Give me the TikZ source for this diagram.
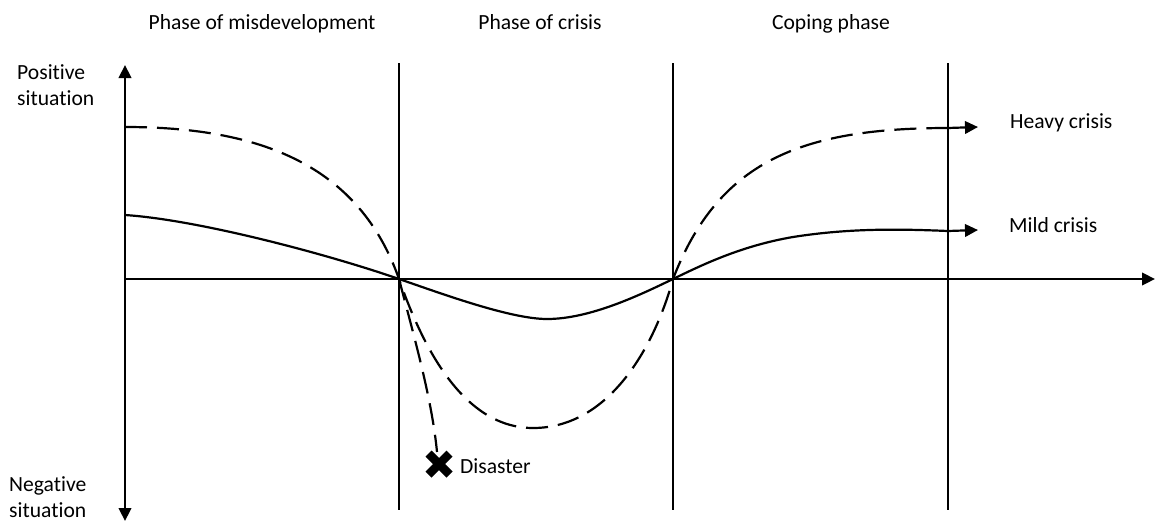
\documentclass[tikz,border=0pt]{standalone}
\usepackage{fontspec}
\setmainfont{Carlito}[Ligatures=NoCommon]
\usetikzlibrary{arrows.meta}

\def\axy{279}
\def\tipl{13pt}
\def\tipw{12.5pt}
\tikzset{
  tip/.tip={Triangle[length=\tipl,width=\tipw]},
  axis/.style={line width=2.2pt,-tip},
  border/.style={line width=2.2pt},
  mild/.style={line width=2.2pt},
  heavy/.style={line width=2.2pt,dash pattern=on 22pt off 10pt},
  lbl/.style={inner sep=0pt,font=\fontsize{21.6}{26}\selectfont},
  xmark/.style={line width=8.5pt},
}

\begin{document}
\begin{tikzpicture}[x=1pt,y=-1pt,line join=round]
  \useasboundingbox (0,0) rectangle (1156,523);
  % axes
  \coordinate (o) at (125,\axy);
  \coordinate (ytop) at (125,65);
  \coordinate (ybot) at (125,521);
  \coordinate (xend) at (1155,\axy);
  \draw[axis,tip-tip] (ybot) -- (ytop);
  \draw[axis] (o) -- (xend);
  \foreach \x [count=\n] in {399,673,948} {
    \coordinate (b\n) at (\x,\axy);
    \draw[border] (\x,63) -- (\x,510);
  }
  % phases
  \node[lbl,anchor=base] (ph1) at (262,29) {Phase of misdevelopment};
  \node[lbl,anchor=base] (ph2) at (540,29) {Phase of crisis};
  \node[lbl,anchor=base] (ph3) at (831,29) {Coping phase};
  \node[lbl,anchor=base west,align=left] (pos) at (17,105) {Positive\\situation};
  \node[lbl,anchor=base west,align=left] (neg) at (9,517) {Negative\\situation};
  % heavy crisis
  \coordinate (h0) at (125,127);
  \coordinate (hmin) at (533,428);
  \coordinate (h3) at (948,128);
  \coordinate (hend) at (978,127);
  \draw[heavy] (h0) .. controls (260,127) and (359,165) .. (b1)
    .. controls (420,339) and (460,428) .. (hmin)
    .. controls (610,428) and (655,345) .. (b2)
    .. controls (718,162) and (800,128) .. (h3);
  \draw[line width=2.2pt,-tip] (h3) -- (hend);
  \node[lbl,anchor=base west] (heavylbl) at (1010,128) {Heavy crisis};
  % mild crisis
  \coordinate (m0) at (125,215);
  \coordinate (mmin) at (547,319);
  \coordinate (m3) at (948,231);
  \coordinate (mend) at (978,230);
  \draw[mild] (m0) .. controls (200,220) and (330,255) .. (b1)
    .. controls (440,293) and (510,319) .. (mmin)
    .. controls (590,319) and (640,295) .. (b2)
    .. controls (700,266) and (740,246) .. (793,237)
    .. controls (850,228) and (900,229) .. (m3);
  \draw[line width=2.2pt,-tip] (m3) -- (mend);
  \node[lbl,anchor=base west] (mildlbl) at (1009,232) {Mild crisis};
  % disaster
  \coordinate (dis) at (439,464);
  \draw[heavy] (b1) .. controls (415,340) and (432,400) .. (437,452);
  \draw[xmark] (dis) ++(-10.5,-10.5) -- ++(21,21) (dis) ++(-10.5,10.5) -- ++(21,-21);
  \node[lbl,anchor=base west] (dislbl) at (460,473) {Disaster};
\end{tikzpicture}
\end{document}
